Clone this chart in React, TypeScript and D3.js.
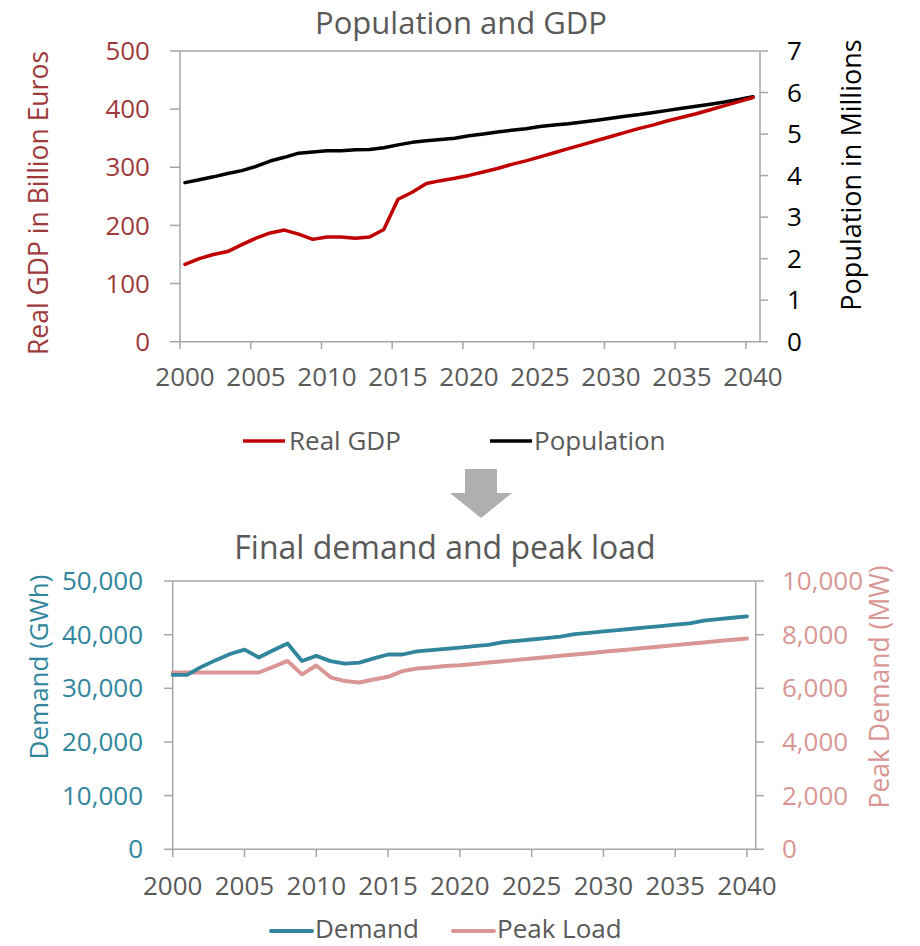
import React from "react";
import * as d3 from "d3";

const years = [2000,2001,2002,2003,2004,2005,2006,2007,2008,2009,2010,2011,2012,2013,2014,2015,2016,2017,2018,2019,2020,2021,2022,2023,2024,2025,2026,2027,2028,2029,2030,2031,2032,2033,2034,2035,2036,2037,2038,2039,2040];
const tickYears = [2000,2005,2010,2015,2020,2025,2030,2035,2040];

const realGdp = [133,143,150,155,167,178,187,192,185,176,180,180,178,180,193,245,257,272,277,281,286,292,298,305,311,318,325,332,339,346,353,360,367,373,380,386,392,399,406,413,420];
const population = [3.83,3.90,3.97,4.05,4.12,4.22,4.35,4.44,4.54,4.57,4.60,4.60,4.62,4.63,4.67,4.74,4.80,4.84,4.87,4.90,4.96,5.00,5.05,5.09,5.13,5.18,5.22,5.25,5.29,5.33,5.38,5.43,5.47,5.52,5.57,5.62,5.67,5.72,5.77,5.83,5.90];

const demand = [32500,32500,34000,35250,36400,37200,35750,37100,38350,35100,36050,35070,34600,34800,35570,36300,36300,36900,37100,37350,37600,37850,38100,38600,38850,39100,39350,39650,40100,40350,40600,40850,41100,41350,41600,41850,42100,42600,42900,43150,43400];
const peakLoad = [6590,6590,6590,6590,6590,6590,6590,6800,7020,6520,6850,6410,6270,6220,6330,6430,6640,6740,6780,6830,6860,6910,6960,7010,7060,7110,7160,7210,7260,7310,7360,7410,7460,7510,7560,7610,7660,7710,7760,7810,7860];

const gdpTicks = [0,100,200,300,400,500];
const popTicks = [0,1,2,3,4,5,6,7];
const demandTicks = [0,10000,20000,30000,40000,50000];
const peakTicks = [0,2000,4000,6000,8000,10000];

const FONT = "'Open Sans', sans-serif";
const GREY_TEXT = "#595959";
const AXIS = "#a6a6a6";
const RED_TXT = "#9e3a3a";
const GDP_COL = "#c00000";
const TEAL = "#31859c";
const PINK = "#d99694";

const fmt = d3.format(",");

export default function App() {
  // ---------- top chart ----------
  const t = { left: 180, right: 760, top: 51, bottom: 341.7 };
  const xTickTop = d3.scaleLinear().domain([2000, 2041]).range([t.left, t.right]);
  const xDataTop = d3.scaleLinear().domain([2000, 2040]).range([185, 753]);
  const yGdp = d3.scaleLinear().domain([0, 500]).range([t.bottom, t.top]);
  const yPop = d3.scaleLinear().domain([0, 7]).range([t.bottom, t.top]);

  const gdpLine = d3.line<number>().x((_, i) => xDataTop(years[i])).y((d) => yGdp(d));
  const popLine = d3.line<number>().x((_, i) => xDataTop(years[i])).y((d) => yPop(d));

  // ---------- bottom chart ----------
  const b = { left: 172.7, right: 755.7, top: 581, bottom: 849.3 };
  const xBot = d3.scaleLinear().domain([2000, 2040]).range([b.left, 747]);
  const yDem = d3.scaleLinear().domain([0, 50000]).range([b.bottom, b.top]);
  const yPeak = d3.scaleLinear().domain([0, 10000]).range([b.bottom, b.top]);

  const demLine = d3.line<number>().x((_, i) => xBot(years[i])).y((d) => yDem(d));
  const peakLine = d3.line<number>().x((_, i) => xBot(years[i])).y((d) => yPeak(d));

  const arrowX = 481;
  const TICK_FS = 26;
  const LEG_FS = 26;

  return (
    <svg
      width={920}
      height={946}
      style={{ position: "absolute", left: 0, top: 0, background: "#fff" }}
      fontFamily={FONT}
    >
      <rect x={0} y={0} width={920} height={946} fill="#fff" />

      {/* ===== TOP CHART ===== */}
      <text x={461} y={34} textAnchor="middle" fontSize={31} fill={GREY_TEXT}>
        Population and GDP
      </text>

      <g stroke={AXIS} strokeWidth={1.5} fill="none">
        <line x1={t.left} x2={t.right} y1={t.top} y2={t.top} />
        <line x1={t.left} x2={t.right} y1={t.bottom} y2={t.bottom} />
        <line x1={t.left} x2={t.left} y1={t.top} y2={t.bottom} />
        <line x1={t.right} x2={t.right} y1={t.top} y2={t.bottom} />
      </g>

      {gdpTicks.map((v) => (
        <g key={"g" + v}>
          <line x1={170} x2={t.left} y1={yGdp(v)} y2={yGdp(v)} stroke={AXIS} strokeWidth={1.5} />
          <text x={150} y={yGdp(v)} dy="0.35em" textAnchor="end" fontSize={TICK_FS} fill={RED_TXT}>
            {v}
          </text>
        </g>
      ))}
      {popTicks.map((v) => (
        <g key={"p" + v}>
          <line x1={t.right} x2={768} y1={yPop(v)} y2={yPop(v)} stroke={AXIS} strokeWidth={1.5} />
          <text x={787} y={yPop(v)} dy="0.35em" textAnchor="start" fontSize={TICK_FS} fill="#000">
            {v}
          </text>
        </g>
      ))}
      {tickYears.map((yr) => (
        <g key={"xt" + yr}>
          <line x1={xTickTop(yr)} x2={xTickTop(yr)} y1={t.bottom} y2={349} stroke={AXIS} strokeWidth={1.5} />
          <text x={xDataTop(yr)} y={377} dy="0.35em" textAnchor="middle" fontSize={TICK_FS} fill={GREY_TEXT}>
            {yr}
          </text>
        </g>
      ))}

      <text transform={`translate(39,203) rotate(-90)`} textAnchor="middle" dy="0.35em" fontSize={26.5} fill={RED_TXT}>
        Real GDP in Billion Euros
      </text>
      <text transform={`translate(852,175) rotate(-90)`} textAnchor="middle" dy="0.35em" fontSize={27} fill="#000">
        Population in Millions
      </text>

      <path d={popLine(population) || ""} fill="none" stroke="#000" strokeWidth={3.5} strokeLinejoin="round" strokeLinecap="round" />
      <path d={gdpLine(realGdp) || ""} fill="none" stroke={GDP_COL} strokeWidth={3.5} strokeLinejoin="round" strokeLinecap="round" />

      {/* legend top */}
      <line x1={243} x2={285} y1={441} y2={441} stroke={GDP_COL} strokeWidth={3.5} />
      <text x={289} y={441} dy="0.35em" fontSize={LEG_FS} fill={GREY_TEXT}>Real GDP</text>
      <line x1={490} x2={532} y1={441} y2={441} stroke="#000" strokeWidth={3.5} />
      <text x={534} y={441} dy="0.35em" fontSize={LEG_FS} fill={GREY_TEXT}>Population</text>

      {/* arrow */}
      <path
        d={`M${arrowX - 16},469 L${arrowX + 16},469 L${arrowX + 16},493 L${arrowX + 31},493 L${arrowX},518 L${arrowX - 31},493 L${arrowX - 16},493 Z`}
        fill="#afafaf"
      />

      {/* ===== BOTTOM CHART ===== */}
      <text x={445} y={559} textAnchor="middle" fontSize={32} fill={GREY_TEXT}>
        Final demand and peak load
      </text>

      <g stroke={AXIS} strokeWidth={1.5} fill="none">
        <line x1={b.left} x2={b.right} y1={b.top} y2={b.top} />
        <line x1={b.left} x2={b.right} y1={b.bottom} y2={b.bottom} />
        <line x1={b.left} x2={b.left} y1={b.top} y2={b.bottom} />
        <line x1={b.right} x2={b.right} y1={b.top} y2={b.bottom} />
      </g>

      {demandTicks.map((v) => (
        <g key={"d" + v}>
          <line x1={164} x2={b.left} y1={yDem(v)} y2={yDem(v)} stroke={AXIS} strokeWidth={1.5} />
          <text x={143} y={yDem(v)} dy="0.35em" textAnchor="end" fontSize={TICK_FS} fill={TEAL}>
            {fmt(v)}
          </text>
        </g>
      ))}
      {peakTicks.map((v) => (
        <g key={"pk" + v}>
          <line x1={b.right} x2={764} y1={yPeak(v)} y2={yPeak(v)} stroke={AXIS} strokeWidth={1.5} />
          <text x={782} y={yPeak(v)} dy="0.35em" textAnchor="start" fontSize={TICK_FS} fill={PINK}>
            {fmt(v)}
          </text>
        </g>
      ))}
      {tickYears.map((yr) => (
        <g key={"xb" + yr}>
          <line x1={xBot(yr)} x2={xBot(yr)} y1={b.bottom} y2={857} stroke={AXIS} strokeWidth={1.5} />
          <text x={xBot(yr)} y={886} dy="0.35em" textAnchor="middle" fontSize={TICK_FS} fill={GREY_TEXT}>
            {yr}
          </text>
        </g>
      ))}

      <text transform={`translate(39,667) rotate(-90)`} textAnchor="middle" dy="0.35em" fontSize={26} fill={TEAL}>
        Demand (GWh)
      </text>
      <text transform={`translate(880,687) rotate(-90)`} textAnchor="middle" dy="0.35em" fontSize={26.5} fill={PINK}>
        Peak Demand (MW)
      </text>

      <path d={peakLine(peakLoad) || ""} fill="none" stroke={PINK} strokeWidth={4} strokeLinejoin="round" strokeLinecap="round" />
      <path d={demLine(demand) || ""} fill="none" stroke={TEAL} strokeWidth={3.8} strokeLinejoin="round" strokeLinecap="round" />

      {/* legend bottom */}
      <line x1={271} x2={312} y1={931} y2={931} stroke={TEAL} strokeWidth={4} strokeLinecap="round" />
      <text x={315} y={929} dy="0.35em" fontSize={LEG_FS} fill={GREY_TEXT}>Demand</text>
      <line x1={453} x2={494} y1={931} y2={931} stroke={PINK} strokeWidth={4} strokeLinecap="round" />
      <text x={497} y={929} dy="0.35em" fontSize={LEG_FS} fill={GREY_TEXT}>Peak Load</text>
    </svg>
  );
}
